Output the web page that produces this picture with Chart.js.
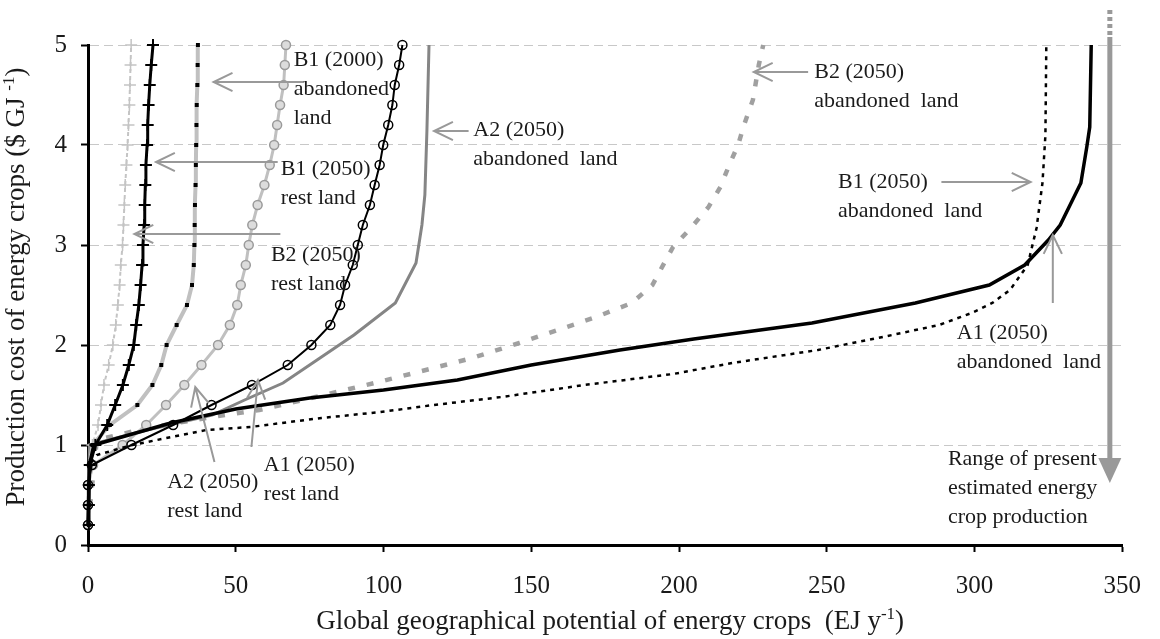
<!DOCTYPE html>
<html>
<head>
<meta charset="utf-8">
<script src="https://cdn.jsdelivr.net/npm/chart.js@4.4.0/dist/chart.umd.min.js"></script>
<style>
body{margin:0;background:#fff;}
#wrap{width:1160px;height:639px;}
</style>
</head>
<body>
<div id="wrap"><canvas id="mycanvas" width="1160" height="639"></canvas></div>
<script>
// cost steps used by the marker series (y, $/GJ)
var costSteps = [0.2,0.4,0.6,0.8,1.0,1.2,1.4,1.6,1.8,2.0,2.2,2.4,2.6,2.8,3.0,3.2,3.4,3.6,3.8,4.0,4.2,4.4,4.6,4.8,5.0];

// potentials (EJ/y) at each cost step
var b2RestX      = [0.3,0.3,0.3,0.6,1.5,3.4,4.4,5.4,7.0,8.4,9.4,10.1,10.7,11.1,11.7,12.0,12.3,12.6,13.0,13.4,13.7,14.0,14.2,14.4,14.6];
var b1RestX      = [0.3,0.3,0.3,0.6,2.5,6.5,9.2,11.8,13.8,15.5,16.3,17.2,17.8,18.3,18.6,19.0,19.2,19.4,19.6,20.0,20.2,20.5,20.9,21.4,22.0];
var b1Aband2000X = [0.3,0.3,0.3,0.6,1.5,7.4,16.7,21.8,24.8,26.6,30.0,33.5,35.2,35.8,36.0,36.1,36.2,36.4,36.5,36.6,36.7,36.8,37.0,37.1,37.2];
var a2RestX      = [0,0,0,1.7,11.7,19.7,26.4,32.6,38.4,44.0,48.0,50.5,51.7,53.4,54.4,55.6,57.4,59.7,61.5,63.0,64.0,65.0,66.2,66.6,67.0];
var a1RestX      = [0,0,0,1.3,14.7,28.8,41.8,55.5,67.6,75.6,82.0,85.3,87.0,89.6,91.3,93.0,95.4,97.0,98.7,99.9,101.6,103.0,103.8,105.3,106.4];

// abandoned land curves (no markers)
var a2AbandX = [0,0.5,20,42,53,66,75,90,104,111,113,114,114.7,115.4];
var a2AbandY = [0.2,1.0,1.15,1.3,1.45,1.62,1.8,2.1,2.42,2.82,3.2,3.5,4.15,5.0];
var b2AbandX = [0,3,20,42,58,77,97,117,130,146,159,172,184,191,195,198,204,210,214,217,220,222,225,227,228.5];
var b2AbandY = [0.2,1.05,1.17,1.28,1.35,1.48,1.62,1.77,1.87,2.02,2.15,2.28,2.42,2.6,2.82,2.98,3.17,3.38,3.58,3.8,4.0,4.2,4.45,4.8,5.0];
var b1AbandX = [0,0.5,3,15,40,55,79,99,117,140,168,198,218,247,269,288,299,306,312,318,321,323,324,324.3];
var b1AbandY = [0.2,0.8,0.9,1.0,1.15,1.18,1.27,1.33,1.4,1.48,1.6,1.71,1.82,1.95,2.08,2.2,2.32,2.42,2.55,2.8,3.17,3.62,4.1,5.0];
var a1AbandX = [0,0.5,2,28,50,75,100,125,150,180,205,245,280,305,317,325,329,336,338,339,339.5];
var a1AbandY = [0.2,0.8,1.0,1.22,1.36,1.47,1.55,1.65,1.8,1.95,2.06,2.22,2.42,2.6,2.8,3.05,3.2,3.62,3.98,4.18,5.0];

var xTicks = [0,50,100,150,200,250,300,350];
var yTicks = [0,1,2,3,4,5];

// labels: text lines, anchor in data units
var notes = [
  {lines:['B1 (2000)','abandoned','land'], x:69.6, y:4.85},
  {lines:['B1 (2050)','rest land'], x:65.2, y:3.76},
  {lines:['B2 (2050)','rest land'], x:61.9, y:2.9},
  {lines:['A2 (2050)','abandoned  land'], x:130.4, y:4.15},
  {lines:['B2 (2050)','abandoned  land'], x:245.8, y:4.73},
  {lines:['B1 (2050)','abandoned  land'], x:253.8, y:3.63},
  {lines:['A1 (2050)','abandoned  land'], x:294, y:2.12},
  {lines:['A2 (2050)','rest land'], x:26.8, y:0.63},
  {lines:['A1 (2050)','rest land'], x:59.5, y:0.8},
  {lines:['Range of present','estimated energy','crop production'], x:291, y:0.86}
];
// pointer arrows: from -> to (data units)
var pointers = [
  [73.2,4.63, 42.5,4.63],
  [64.2,3.83, 23.0,3.83],
  [65.1,3.11, 15.7,3.11],
  [128.8,4.14, 117.1,4.14],
  [243.7,4.73, 225.3,4.73],
  [288.8,3.63, 319.0,3.63],
  [326.5,2.42, 326.5,3.10],
  [42.8,0.83, 36.3,1.58],
  [55.3,0.98, 57.5,1.65]
];
var rangeX = 345.8, rangeTop = 5.35, rangeSolid = 5.08, rangeTip = 0.62;

function pts(xs, ys){
  var out = [];
  for (var i = 0; i < xs.length; i++) out.push({x:xs[i], y:ys[i]});
  return out;
}

var serif = "'Liberation Serif', 'DejaVu Serif', serif";

var notesPlugin = {
  id:'notes',
  afterDatasetsDraw: function(chart){
    var ctx = chart.ctx, xs = chart.scales.x, ys = chart.scales.y;
    ctx.save();
    // arrows
    ctx.strokeStyle = '#999';
    ctx.lineWidth = 2;
    pointers.forEach(function(p){
      var x1 = xs.getPixelForValue(p[0]), y1 = ys.getPixelForValue(p[1]);
      var x2 = xs.getPixelForValue(p[2]), y2 = ys.getPixelForValue(p[3]);
      var a = Math.atan2(y2-y1, x2-x1), len = 21, spread = 0.45;
      ctx.beginPath();
      ctx.moveTo(x1,y1); ctx.lineTo(x2,y2);
      ctx.moveTo(x2 - len*Math.cos(a-spread), y2 - len*Math.sin(a-spread));
      ctx.lineTo(x2,y2);
      ctx.lineTo(x2 - len*Math.cos(a+spread), y2 - len*Math.sin(a+spread));
      ctx.stroke();
    });
    // range arrow
    var rx = xs.getPixelForValue(rangeX);
    var yTop = ys.getPixelForValue(rangeTop), ySolid = ys.getPixelForValue(rangeSolid);
    var yTip = ys.getPixelForValue(rangeTip);
    ctx.lineWidth = 5;
    ctx.setLineDash([4,3]);
    ctx.beginPath(); ctx.moveTo(rx,yTop); ctx.lineTo(rx,ySolid); ctx.stroke();
    ctx.setLineDash([]);
    ctx.beginPath(); ctx.moveTo(rx,ySolid); ctx.lineTo(rx,yTip-24); ctx.stroke();
    ctx.fillStyle = '#999';
    ctx.beginPath();
    ctx.moveTo(rx-11.5,yTip-25); ctx.lineTo(rx+11.5,yTip-25); ctx.lineTo(rx,yTip);
    ctx.closePath(); ctx.fill();
    // texts
    ctx.fillStyle = '#1a1a1a';
    ctx.font = '22px ' + serif;
    ctx.textBaseline = 'middle';
    ctx.textAlign = 'left';
    notes.forEach(function(n){
      var x = xs.getPixelForValue(n.x), y = ys.getPixelForValue(n.y);
      n.lines.forEach(function(t,i){ ctx.fillText(t, x, y + i*29); });
    });
    ctx.restore();
  }
};

function supText(ctx, base, sup, tail, cx, by, size){
  ctx.font = size + 'px ' + serif;
  var w1 = ctx.measureText(base).width, w3 = ctx.measureText(tail).width;
  ctx.font = Math.round(size*0.62) + 'px ' + serif;
  var w2 = ctx.measureText(sup).width;
  var x = cx - (w1+w2+w3)/2;
  ctx.font = size + 'px ' + serif;
  ctx.fillText(base, x, by);
  ctx.fillText(tail, x+w1+w2, by);
  ctx.font = Math.round(size*0.62) + 'px ' + serif;
  ctx.fillText(sup, x+w1, by - size*0.38);
}

var titlesPlugin = {
  id:'titles',
  afterDraw: function(chart){
    var ctx = chart.ctx, a = chart.chartArea;
    ctx.save();
    ctx.fillStyle = '#1a1a1a';
    ctx.textAlign = 'left';
    ctx.textBaseline = 'alphabetic';
    supText(ctx, 'Global geographical potential of energy crops  (EJ y', '-1', ')', (a.left+a.right)/2 + 5, 629, 27);
    ctx.translate(24, (a.top+a.bottom)/2 - 8);
    ctx.rotate(-Math.PI/2);
    supText(ctx, 'Production cost of energy crops ($ GJ ', '-1', ')', 0, 0, 27);
    ctx.restore();
  }
};

var chartdata = {
  datasets: [
    {label:'A1 (2050) abandoned land', data:pts(a1AbandX,a1AbandY), borderColor:'#000', borderWidth:3.5, pointRadius:0, order:1},
    {label:'B1 (2050) abandoned land', data:pts(b1AbandX,b1AbandY), borderColor:'#000', borderWidth:2.5, borderDash:[4,5], pointRadius:0, order:2},
    {label:'A1 (2050) rest land', data:pts(a1RestX,costSteps), borderColor:'#000', borderWidth:2, pointStyle:'circle', pointRadius:4.5, pointBorderWidth:1.5, pointBorderColor:'#000', pointBackgroundColor:'rgba(255,255,255,0)', order:3},
    {label:'B1 (2050) rest land', data:pts(b1RestX,costSteps), borderColor:'#000', borderWidth:3, pointStyle:'cross', pointRadius:6, pointBorderWidth:2, pointBorderColor:'#000', order:4},
    {label:'B1 (2000) abandoned land', data:pts(b1Aband2000X,costSteps), borderColor:'#c0c0c0', borderWidth:4, pointStyle:'rect', pointRadius:2.8, pointBorderWidth:0, pointBackgroundColor:'#000', order:5},
    {label:'A2 (2050) rest land', data:pts(a2RestX,costSteps), borderColor:'#c0c0c0', borderWidth:3, pointStyle:'circle', pointRadius:4.5, pointBorderWidth:1.5, pointBorderColor:'#9a9a9a', pointBackgroundColor:'#dcdcdc', order:6},
    {label:'B2 (2050) rest land', data:pts(b2RestX,costSteps), borderColor:'#c4c4c4', borderWidth:2, borderDash:[4,3], pointStyle:'cross', pointRadius:6, pointBorderWidth:1.5, pointBorderColor:'#c4c4c4', order:7},
    {label:'A2 (2050) abandoned land', data:pts(a2AbandX,a2AbandY), borderColor:'#858585', borderWidth:3, pointRadius:0, order:8},
    {label:'B2 (2050) abandoned land', data:pts(b2AbandX,b2AbandY), borderColor:'#a0a0a0', borderWidth:4.5, borderDash:[7,12], pointRadius:0, order:9}
  ]
};
chartdata.datasets.forEach(function(d){ d.showLine = true; d.tension = 0; d.fill = false; d.clip = 12; d.pointHoverRadius = d.pointRadius; });

var ctx = document.getElementById('mycanvas');
var graph = new Chart(ctx, {
  type:'scatter',
  data:chartdata,
  plugins:[notesPlugin, titlesPlugin],
  options:{
    responsive:false,
    animation:false,
    events:[],
    layout:{padding:{left:0, top:45, right:27, bottom:0}},
    plugins:{legend:{display:false}, tooltip:{enabled:false}},
    scales:{
      x:{
        type:'linear', min:0, max:350,
        afterBuildTicks:function(s){ s.ticks = xTicks.map(function(v){ return {value:v}; }); },
        afterFit:function(s){ s.height = 94; },
        grid:{drawOnChartArea:false, drawTicks:true, tickLength:7, tickWidth:2, tickColor:'#000'},
        border:{color:'#000', width:3},
        ticks:{font:{family:serif, size:25}, color:'#1a1a1a', padding:19, maxRotation:0}
      },
      y:{
        type:'linear', min:0, max:5,
        afterBuildTicks:function(s){ s.ticks = yTicks.map(function(v){ return {value:v}; }); },
        afterFit:function(s){ s.width = 88; },
        grid:{color:function(c){ return (c.tick && c.tick.value === 0) ? 'rgba(0,0,0,0)' : '#c8c8c8'; }, lineWidth:1, drawTicks:true, tickLength:7, tickWidth:2, tickColor:'#000'},
        border:{color:'#000', width:3, dash:[9,5]},
        ticks:{font:{family:serif, size:25}, color:'#1a1a1a', padding:14}
      }
    }
  }
});
</script>
</body>
</html>
